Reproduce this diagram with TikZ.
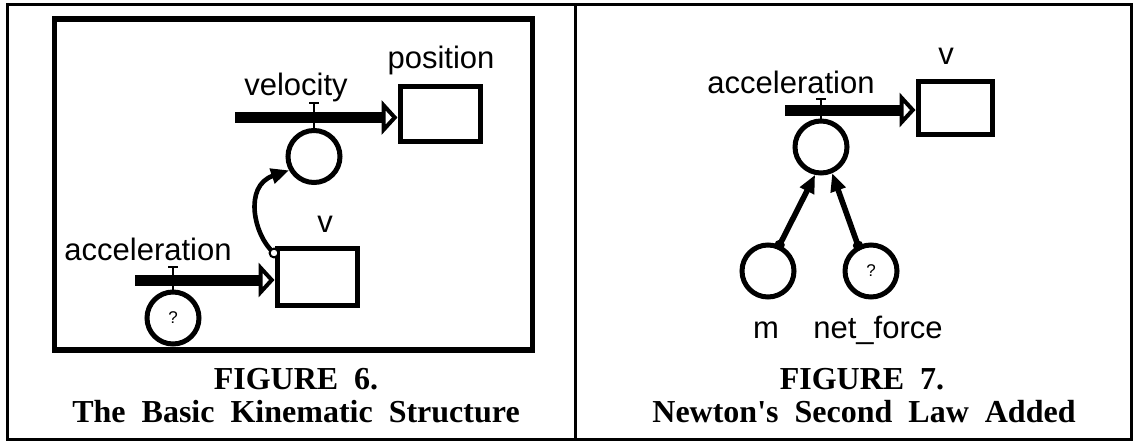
\documentclass[tikz,border=0pt]{standalone}
\usepackage{fontspec}
\setmainfont{Liberation Serif}
\setsansfont{Liberation Sans}
\usetikzlibrary{arrows.meta,positioning}
\tikzset{
  stock/.style={draw, line width=2.5pt, minimum width=40pt, minimum height=27.5pt, inner sep=0pt},
  conv/.style={draw, circle, line width=2.5pt, minimum size=26pt, inner sep=0pt, font=\sffamily\fontsize{8.5}{10}\selectfont},
  flow/.style={line width=5.5pt, -{Triangle[open, length=8pt, width=17pt, line width=2.5pt]}},
  tick/.style={line width=1pt},
  link/.style={line width=2.3pt, -{Triangle[length=9pt, width=7.5pt]}},
  lbl/.style={font=\sffamily\fontsize{15.5}{18}\selectfont, anchor=base, inner sep=0pt},
  caption/.style={font=\bfseries\fontsize{16}{19}\selectfont, anchor=base, inner sep=0pt}
}

\begin{document}
\begin{tikzpicture}[x=0.5pt, y=0.5pt]
  \useasboundingbox (0,0) rectangle (1134,441);
  % page frame and divider
  \draw[line width=1.5pt] (7.5,2) rectangle (1131,436.5);
  \draw[line width=1.5pt] (575,2) -- (575,436.5);

  % --- figure 6 ---
  \draw[line width=2.8pt] (54.5,91) rectangle (532.5,422);
  \node[stock] (pos) at (440,327.5) {};
  \node[stock, minimum height=28.5pt] (vel) at (317,164.5) {};
  \node[conv] (velrate) at (314,284.5) {};
  \node[conv] (accrate) at (173,123) {?};
  \node[lbl] (poslbl) at (441,373) {position};
  \node[lbl] (vellbl) at (296,346) {velocity};
  \node[lbl] (vlbl) at (325,209) {v};
  \node[lbl] (acclbl) at (148,181) {acceleration};

  \coordinate (velsrc) at (235,323.5);
  \coordinate (accsrc) at (135,161);
  \coordinate (vdot) at (274,188);
  \draw[tick] (velrate.north) -- ++(0,25) ++(-5,0) -- ++(10,0);
  \draw[tick] (accrate.north) -- ++(0,23) ++(-5,0) -- ++(10,0);
  \draw[flow] (velsrc) -- (velsrc -| pos.west);
  \draw[flow] (accsrc) -- (accsrc -| vel.west);
  \draw[link] (vdot) .. controls (254,205) and (243,255) .. (velrate.209);
  \draw[line width=1pt, fill=white] (vdot) circle[radius=2.2pt];

  \node[caption] (cap6a) at (296,52) {FIGURE~~6.};
  \node[caption] (cap6b) at (296,19) {The~~Basic~~Kinematic~~Structure};

  % --- figure 7 ---
  \node[stock, minimum width=37pt, minimum height=26.5pt] (v) at (955,333) {};
  \node[conv] (acc) at (821,294) {};
  \node[conv] (mass) at (768,170) {};
  \node[conv] (force) at (871,170) {?};
  \node[lbl] (v7lbl) at (946,377) {v};
  \node[lbl] (acc7lbl) at (791,348) {acceleration};
  \node[lbl] (masslbl) at (766,103) {m};
  \node[lbl] (forcelbl) at (878,103) {net\_force};

  \coordinate (acc7src) at (785,331);
  \draw[tick] (acc.north) -- ++(0,20) ++(-5,0) -- ++(10,0);
  \draw[flow] (acc7src) -- (acc7src -| v.west);
  \draw[link, line width=2.8pt] (mass.66) -- (acc.258);
  \draw[link, line width=2.8pt] (force.117) -- (acc.293);
  \fill (mass.66) circle[radius=2.6pt];
  \fill (force.117) circle[radius=2.6pt];

  \node[caption] (cap7a) at (862,52) {FIGURE~~7.};
  \node[caption] (cap7b) at (864,19) {Newton\textquotesingle s~~Second~~Law~~Added};
\end{tikzpicture}
\end{document}
